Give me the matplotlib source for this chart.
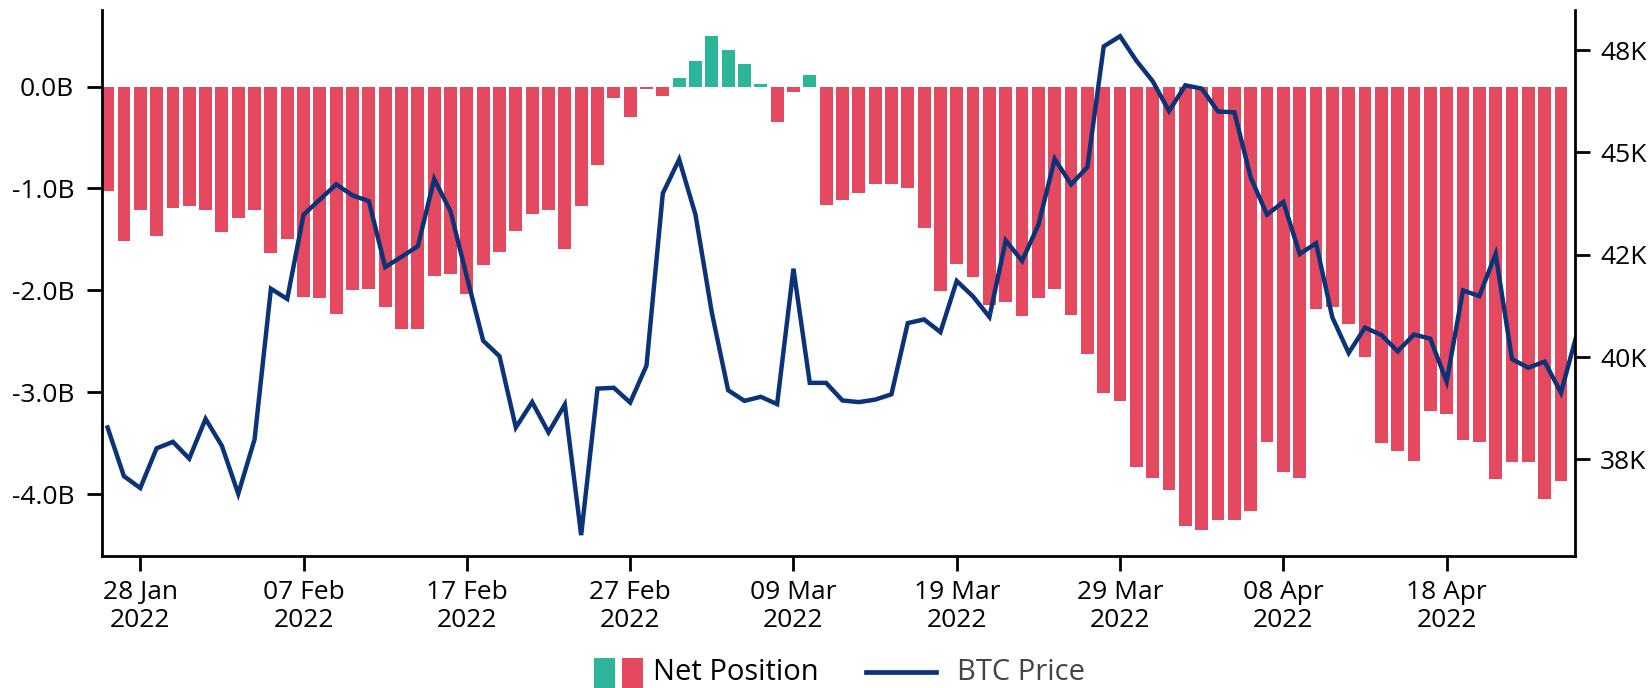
import pandas as pd
import matplotlib
matplotlib.use("Agg")
import matplotlib.pyplot as plt
from matplotlib.patches import Rectangle
from matplotlib.lines import Line2D
from matplotlib.ticker import FixedLocator, FuncFormatter

plt.rcParams['font.family'] = ['Open Sans', 'DejaVu Sans']

# net position per day (billions), 26 Jan .. 25 Apr 2022
net_position_b = [
    -1.03, -1.52, -1.21, -1.47, -1.19, -1.17, -1.21, -1.43, -1.29, -1.21,
    -1.63, -1.50, -2.07, -2.08, -2.23, -2.00, -1.99, -2.16, -2.38, -2.38,
    -1.86, -1.84, -2.04, -1.75, -1.62, -1.42, -1.25, -1.21, -1.59, -1.17,
    -0.77, -0.11, -0.30, -0.02, -0.09, 0.08, 0.25, 0.50, 0.36, 0.22,
    0.02, -0.35, -0.05, 0.11, -1.16, -1.11, -1.04, -0.96, -0.96, -1.00,
    -1.39, -2.01, -1.74, -1.87, -2.14, -2.11, -2.25, -2.08, -1.99, -2.24,
    -2.62, -3.01, -3.09, -3.73, -3.84, -3.96, -4.31, -4.35, -4.25, -4.25,
    -4.17, -3.49, -3.78, -3.84, -2.18, -2.16, -2.33, -2.65, -3.50, -3.58,
    -3.67, -3.18, -3.21, -3.47, -3.49, -3.85, -3.68, -3.68, -4.05, -3.87,
]

# btc price per day (USD), 26 Jan .. 26 Apr 2022
btc_price = [
    38280, 37090, 36800, 37770, 37930, 37520, 38490, 37830, 36660, 37990,
    41670, 41420, 43480, 43850, 44220, 43950, 43810, 42200, 42450, 42710,
    44350, 43560, 41960, 40400, 40020, 38280, 38900, 38160, 38840, 35650,
    39230, 39250, 38890, 39790, 44000, 44830, 43480, 41090, 39190, 38930,
    39030, 38850, 42160, 39370, 39370, 38940, 38900, 38960, 39090, 40830,
    40920, 40610, 41860, 41480, 40980, 42850, 42350, 43230, 44840, 44220,
    44640, 47590, 47840, 47240, 46740, 46010, 46640, 46560, 46000, 45980,
    44390, 43480, 43790, 42520, 42780, 40970, 40100, 40720, 40540, 40140,
    40550, 40450, 39400, 41630, 41490, 42520, 39950, 39740, 39890, 39130,
    40600,
]

net_ticks = [0.0, -1.0, -2.0, -3.0, -4.0]
price_ticks = [37500, 40000, 42500, 45000, 47500]
date_ticks = pd.date_range('2022-01-28', '2022-04-18', freq='10D')

start = pd.Timestamp('2022-01-26')
bar_dates = pd.date_range(start, periods=len(net_position_b), freq='D')
price_dates = pd.date_range(start, periods=len(btc_price), freq='D')

red = '#E4495F'
green = '#2DB59A'
navy = '#0B3378'

W, H = 1652, 688
fig = plt.figure(figsize=(W / 100, H / 100), dpi=100)
ax = fig.add_axes([101.8 / W, 1 - 556 / H, (1575 - 101.8) / W, (556 - 10) / H])
ax2 = ax.twinx()

colors = [green if v > 0 else red for v in net_position_b]
ax.bar(bar_dates, net_position_b, width=0.785, color=colors, linewidth=0)
ax2.plot(price_dates, btc_price, color=navy, lw=3.2, solid_joinstyle='miter')

ax.set_xlim(start - pd.Timedelta(days=0.355), start + pd.Timedelta(days=89.86))
ax.set_ylim(-4.607, 0.751)
ax2.set_ylim(35140, 48480)

ax.yaxis.set_major_locator(FixedLocator(net_ticks))
ax.yaxis.set_major_formatter(FuncFormatter(lambda v, _: f"{v:.1f}B"))
ax2.yaxis.set_major_locator(FixedLocator(price_ticks))
ax2.yaxis.set_major_formatter(FuncFormatter(lambda v, _: f"{round(v / 1000)}K"))
ax.set_xticks(date_ticks)
ax.set_xticklabels([d.strftime('%d %b\n%Y') for d in date_ticks])

for a in (ax, ax2):
    a.spines['top'].set_visible(False)
    for s in ('left', 'right', 'bottom'):
        a.spines[s].set_linewidth(2.0)
ax.spines['right'].set_visible(False)
ax2.spines['left'].set_visible(False)
ax2.spines['bottom'].set_visible(False)

ax.tick_params(axis='y', length=11, width=2, pad=9, labelsize=19)
ax.tick_params(axis='x', length=11, width=2, pad=6, labelsize=19)
ax2.tick_params(axis='y', length=11, width=2, pad=7, labelsize=19)

# legend at the bottom edge, drawn by hand
tf = fig.transFigure
fig.add_artist(Rectangle((594 / W, -4 / H), 21 / W, 34 / H, transform=tf, color=green, lw=0))
fig.add_artist(Rectangle((622 / W, -4 / H), 21 / W, 34 / H, transform=tf, color=red, lw=0))
fig.text(653 / W, 0.5 / H, 'Net Position', fontsize=21, va='bottom', color='black')
fig.add_artist(Line2D([866 / W, 936 / W], [16 / H, 16 / H], transform=tf, color=navy, lw=3.4))
fig.text(957 / W, 0.5 / H, 'BTC Price', fontsize=21, va='bottom', color='#444444')

fig.savefig('out.png', dpi=100)
